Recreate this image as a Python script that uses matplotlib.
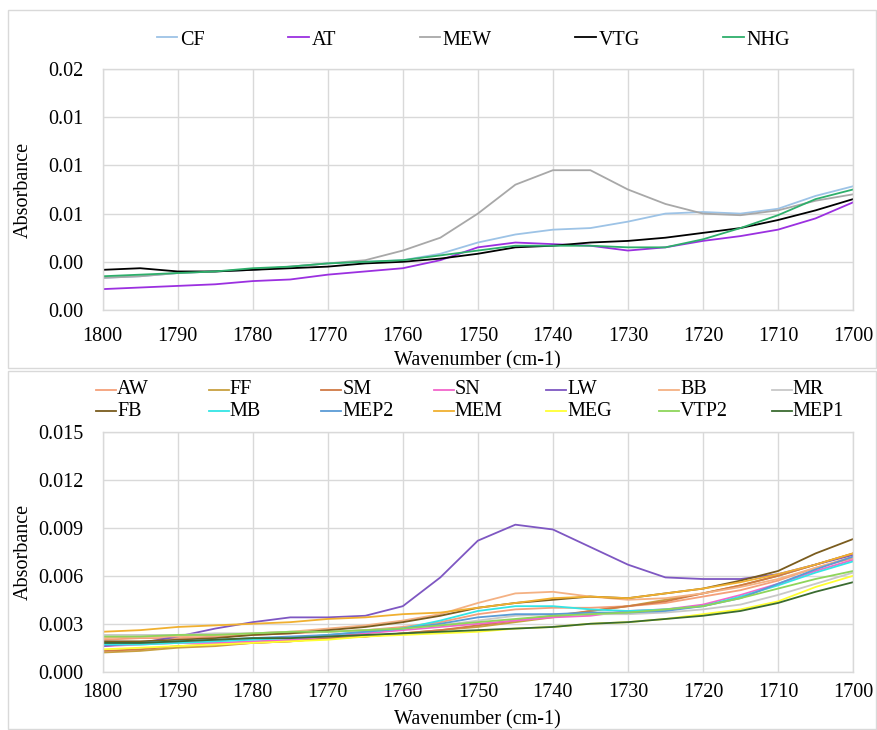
import matplotlib
matplotlib.use("Agg")
import matplotlib.pyplot as plt
from matplotlib.lines import Line2D
from matplotlib.patches import Rectangle

plt.rcParams["font.family"] = ["Liberation Serif", "DejaVu Serif"]
FS = 14.5
GRID = "#D9D9D9"

# wavenumbers (cm-1), every 5 from 1800 down to 1700
wavenumber = [1800, 1795, 1790, 1785, 1780, 1775, 1770, 1765, 1760, 1755, 1750,
              1745, 1740, 1735, 1730, 1725, 1720, 1715, 1710, 1705, 1700]

# top panel
top_names = ["CF", "AT", "MEW", "VTG", "NHG"]
top_colors = ["#9DC3E6", "#9B30E0", "#A8A8A8", "#000000", "#2EAF6B"]
cf = [0.0020, 0.0021, 0.0023, 0.0024, 0.0025, 0.0027, 0.0029, 0.0030, 0.0031, 0.0035, 0.0042,
      0.0047, 0.0050, 0.0051, 0.0055, 0.0060, 0.0061, 0.0060, 0.0063, 0.0071, 0.0077]
at = [0.0013, 0.0014, 0.0015, 0.0016, 0.0018, 0.0019, 0.0022, 0.0024, 0.0026, 0.0031, 0.0039,
      0.0042, 0.0041, 0.0040, 0.0037, 0.0039, 0.0043, 0.0046, 0.0050, 0.0057, 0.0067]
mew = [0.0020, 0.0021, 0.0023, 0.0024, 0.0025, 0.0027, 0.0029, 0.0031, 0.0037, 0.0045, 0.0060,
       0.0078, 0.0087, 0.0087, 0.0075, 0.0066, 0.0060, 0.0059, 0.0062, 0.0068, 0.0072]
vtg = [0.0025, 0.0026, 0.0024, 0.0024, 0.0025, 0.0026, 0.0027, 0.0029, 0.0030, 0.0032, 0.0035,
       0.0039, 0.0040, 0.0042, 0.0043, 0.0045, 0.0048, 0.0051, 0.0056, 0.0062, 0.0069]
nhg = [0.0021, 0.0022, 0.0023, 0.0024, 0.0026, 0.0027, 0.0029, 0.0030, 0.0031, 0.0034, 0.0037,
       0.0040, 0.0040, 0.0040, 0.0039, 0.0039, 0.0044, 0.0051, 0.0059, 0.0069, 0.0075]
top_series = [cf, at, mew, vtg, nhg]
top_ticks = [0.0, 0.003, 0.006, 0.009, 0.012, 0.015]
top_ticklabels = ["0.00", "0.00", "0.01", "0.01", "0.01", "0.02"]

# bottom panel
bot_names = ["AW", "FF", "SM", "SN", "LW", "BB", "MR",
             "FB", "MB", "MEP2", "MEM", "MEG", "VTP2", "MEP1"]
bot_colors = ["#F4A07A", "#C8A040", "#D07A45", "#F266CC", "#7E57C2", "#F4B183", "#C8C8C8",
              "#7A5C1E", "#33E5E5", "#5B9BD5", "#F0B030", "#FFFF33", "#8ED55A", "#3A6B30"]
aw = [0.0020, 0.0021, 0.0021, 0.0022, 0.0023, 0.0024, 0.0025, 0.0026, 0.0028, 0.0031, 0.0036,
      0.0039, 0.0040, 0.0040, 0.0041, 0.0043, 0.0047, 0.0051, 0.0057, 0.0065, 0.0071]
ff = [0.0012, 0.0013, 0.0015, 0.0016, 0.0018, 0.0019, 0.0021, 0.0022, 0.0024, 0.0026, 0.0028,
      0.0031, 0.0034, 0.0038, 0.0041, 0.0045, 0.0049, 0.0054, 0.0060, 0.0067, 0.0074]
sm = [0.0013, 0.0014, 0.0016, 0.0017, 0.0018, 0.0019, 0.0021, 0.0022, 0.0024, 0.0026, 0.0029,
      0.0032, 0.0035, 0.0038, 0.0041, 0.0044, 0.0049, 0.0054, 0.0060, 0.0067, 0.0074]
sn = [0.0016, 0.0017, 0.0018, 0.0018, 0.0019, 0.0020, 0.0022, 0.0024, 0.0026, 0.0028, 0.0030,
      0.0032, 0.0034, 0.0035, 0.0038, 0.0039, 0.0042, 0.0048, 0.0055, 0.0063, 0.0070]
lw = [0.0016, 0.0018, 0.0022, 0.0027, 0.0031, 0.0034, 0.0034, 0.0035, 0.0041, 0.0059, 0.0082,
      0.0092, 0.0089, 0.0078, 0.0067, 0.0059, 0.0058, 0.0058, 0.0061, 0.0067, 0.0073]
bb = [0.0021, 0.0022, 0.0022, 0.0023, 0.0024, 0.0025, 0.0027, 0.0029, 0.0032, 0.0036, 0.0043,
      0.0049, 0.0050, 0.0047, 0.0045, 0.0046, 0.0049, 0.0053, 0.0058, 0.0065, 0.0072]
mr = [0.0023, 0.0023, 0.0023, 0.0024, 0.0024, 0.0025, 0.0025, 0.0026, 0.0027, 0.0029, 0.0032,
      0.0035, 0.0036, 0.0036, 0.0036, 0.0037, 0.0039, 0.0042, 0.0048, 0.0055, 0.0062]
fb = [0.0019, 0.0019, 0.0020, 0.0021, 0.0023, 0.0024, 0.0026, 0.0028, 0.0031, 0.0035, 0.0040,
      0.0043, 0.0045, 0.0047, 0.0046, 0.0049, 0.0052, 0.0057, 0.0063, 0.0074, 0.0083]
mb = [0.0017, 0.0017, 0.0018, 0.0019, 0.0020, 0.0021, 0.0023, 0.0025, 0.0027, 0.0032, 0.0038,
      0.0041, 0.0041, 0.0039, 0.0038, 0.0039, 0.0041, 0.0047, 0.0054, 0.0062, 0.0069]
mep2 = [0.0018, 0.0018, 0.0019, 0.0020, 0.0021, 0.0022, 0.0023, 0.0025, 0.0027, 0.0030, 0.0034,
        0.0036, 0.0036, 0.0037, 0.0037, 0.0038, 0.0041, 0.0046, 0.0055, 0.0064, 0.0072]
mem = [0.0025, 0.0026, 0.0028, 0.0029, 0.0030, 0.0031, 0.0033, 0.0034, 0.0036, 0.0037, 0.0040,
       0.0043, 0.0046, 0.0047, 0.0046, 0.0049, 0.0052, 0.0056, 0.0061, 0.0067, 0.0074]
meg = [0.0014, 0.0015, 0.0016, 0.0017, 0.0018, 0.0019, 0.0020, 0.0022, 0.0023, 0.0024, 0.0025,
       0.0027, 0.0028, 0.0030, 0.0031, 0.0033, 0.0036, 0.0039, 0.0044, 0.0053, 0.0060]
vtp2 = [0.0022, 0.0022, 0.0023, 0.0023, 0.0024, 0.0025, 0.0025, 0.0026, 0.0027, 0.0029, 0.0031,
        0.0033, 0.0035, 0.0036, 0.0037, 0.0039, 0.0041, 0.0046, 0.0052, 0.0058, 0.0063]
mep1 = [0.0018, 0.0018, 0.0019, 0.0020, 0.0021, 0.0021, 0.0022, 0.0023, 0.0024, 0.0025, 0.0026,
        0.0027, 0.0028, 0.0030, 0.0031, 0.0033, 0.0035, 0.0038, 0.0043, 0.0050, 0.0056]
bot_series = [aw, ff, sm, sn, lw, bb, mr, fb, mb, mep2, mem, meg, vtp2, mep1]
bot_ticks = [0.0, 0.003, 0.006, 0.009, 0.012, 0.015]
bot_ticklabels = ["0.000", "0.003", "0.006", "0.009", "0.012", "0.015"]

x_ticks = [1800, 1790, 1780, 1770, 1760, 1750, 1740, 1730, 1720, 1710, 1700]

fig = plt.figure(figsize=(8.78, 7.3), dpi=100)
W, H = 878, 730


def fx(px):
    return px / W


def fy(py):
    return 1 - py / H


# chart-area borders
for top, bot in [(10, 368), (371, 729)]:
    fig.add_artist(Rectangle((fx(8), fy(bot)), fx(868), (bot - top) / H,
                             transform=fig.transFigure, fill=False,
                             edgecolor=GRID, linewidth=1))


def style_axes(ax, ticks, ticklabels, tickpad_x, xlabel_y):
    ax.set_xlim(1800, 1700)
    ax.set_ylim(0, 0.015)
    ax.set_xticks(x_ticks)
    ax.set_yticks(ticks)
    ax.set_yticklabels(ticklabels)
    ax.grid(True, color=GRID, linewidth=1)
    ax.set_axisbelow(True)
    for s in ax.spines.values():
        s.set_color(GRID)
        s.set_linewidth(1)
    ax.tick_params(axis="both", length=0, labelsize=FS)
    ax.tick_params(axis="x", pad=tickpad_x)
    ax.tick_params(axis="y", pad=14)
    ax.set_xlabel("Wavenumber (cm-1)", fontsize=FS)
    ax.set_ylabel("Absorbance", fontsize=FS)
    ax.xaxis.set_label_coords(0.5, xlabel_y)
    ax.yaxis.set_label_coords(-0.093, 0.5)


ax1 = fig.add_axes([fx(102.7), fy(310), fx(853 - 102.7), (310 - 69) / H])
for vals, name, c in zip(top_series, top_names, top_colors):
    ax1.plot(wavenumber, vals, color=c, linewidth=1.3, label=name)
style_axes(ax1, top_ticks, top_ticklabels, 12, -0.17)
ax1.legend(loc="center left", bbox_to_anchor=(fx(157), fy(40)),
           bbox_transform=fig.transFigure, ncol=5, frameon=False,
           fontsize=FS, handlelength=1.0, handletextpad=0.15,
           columnspacing=4.15, borderpad=0, borderaxespad=0)

ax2 = fig.add_axes([fx(102.7), fy(671.7), fx(853 - 102.7), (671.7 - 432) / H])
for vals, name, c in zip(bot_series, bot_names, bot_colors):
    ax2.plot(wavenumber, vals, color=c, linewidth=1.3, label=name)
style_axes(ax2, bot_ticks, bot_ticklabels, 8, -0.16)

# two-row legend with equal-width columns
col_x0, col_step, handle_len = 96, 112.6, 20
row_y = [390, 411]
for i, (name, c) in enumerate(zip(bot_names, bot_colors)):
    col, row = i % 7, i // 7
    x0 = col_x0 + col * col_step
    y0 = row_y[row]
    fig.add_artist(Line2D([fx(x0), fx(x0 + handle_len)], [fy(y0), fy(y0)],
                          transform=fig.transFigure, color=c, linewidth=1.3))
    fig.text(fx(x0 + handle_len + 1), fy(y0), name, fontsize=FS,
             ha="left", va="center")

fig.savefig("out.png", dpi=100)
